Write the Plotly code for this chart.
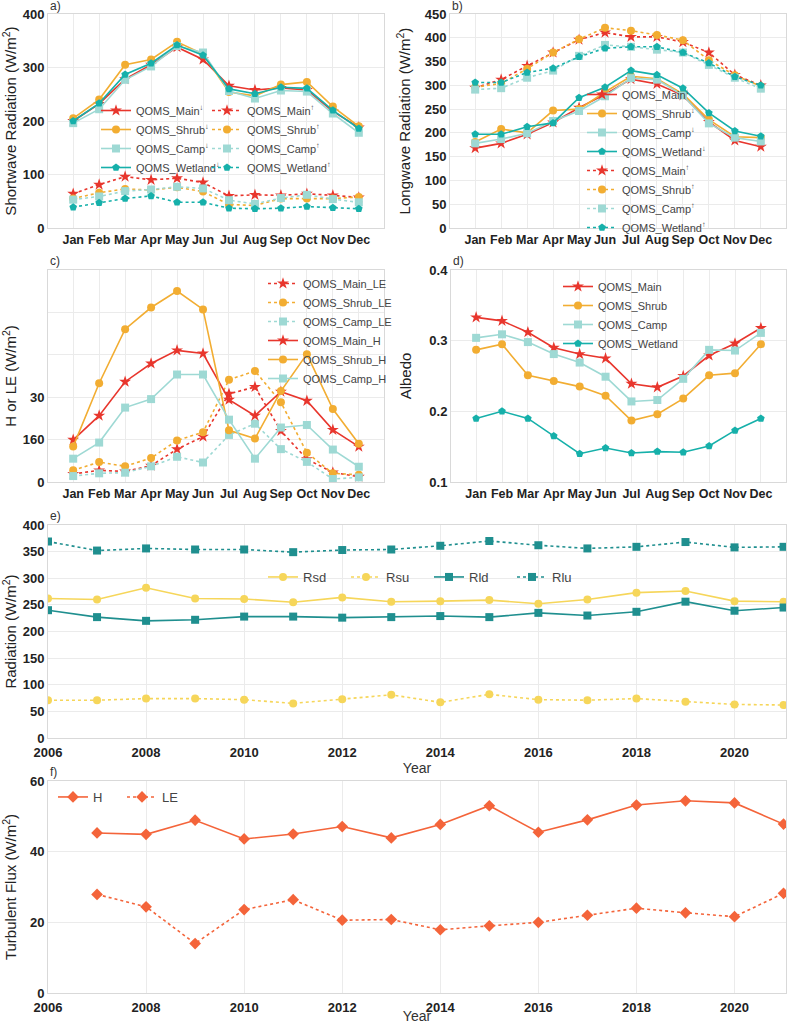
import plotly.graph_objects as go

W, H = 787, 1024

months = ["Jan", "Feb", "Mar", "Apr", "May", "Jun", "Jul", "Aug", "Sep", "Oct", "Nov", "Dec"]
years = list(range(2006, 2022))
flux_years = list(range(2007, 2022))

# a) shortwave radiation, down and up (W/m2)
sw_down_main = [200, 232, 278, 305, 338, 315, 266, 258, 262, 258, 218, 188]
sw_down_shrub = [205, 240, 305, 315, 348, 325, 254, 247, 268, 273, 227, 190]
sw_down_camp = [196, 222, 277, 302, 340, 328, 256, 242, 257, 255, 214, 178]
sw_down_wetland = [200, 233, 287, 308, 342, 323, 260, 251, 263, 261, 220, 186]
sw_up_main = [64, 81, 96, 90, 93, 85, 60, 62, 61, 64, 61, 57]
sw_up_shrub = [55, 66, 73, 71, 76, 68, 44, 42, 55, 55, 55, 58]
sw_up_camp = [53, 59, 69, 72, 77, 74, 52, 45, 56, 62, 54, 48]
sw_up_wetland = [39, 47, 55, 60, 48, 48, 37, 36, 37, 40, 38, 36]

# b) longwave radiation, down and up (W/m2)
lw_down_main = [168, 178, 197, 222, 253, 281, 313, 303, 279, 223, 184, 171]
lw_down_shrub = [181, 208, 200, 247, 250, 286, 319, 314, 282, 228, 192, 190]
lw_down_camp = [178, 187, 199, 225, 246, 277, 315, 312, 279, 220, 190, 182]
lw_down_wetland = [197, 197, 213, 221, 274, 296, 331, 322, 294, 242, 204, 193]
lw_up_main = [295, 312, 341, 369, 396, 411, 402, 402, 391, 369, 322, 300]
lw_up_shrub = [296, 304, 335, 369, 397, 421, 415, 406, 395, 353, 321, 298]
lw_up_camp = [291, 294, 316, 331, 362, 385, 381, 375, 369, 343, 316, 293]
lw_up_wetland = [306, 306, 327, 336, 360, 378, 381, 381, 369, 347, 318, 300]

# c) H and LE, in the panel's own axis units
le_main = [3.8, 5.5, 5.0, 7.7, 15.5, 21.4, 41.6, 44.8, 24.1, 10.8, 4.5, 2.5]
le_shrub = [5.5, 9.4, 7.4, 11.3, 19.6, 23.5, 48.2, 52.4, 37.6, 13.8, 4.1, 3.4]
le_camp = [2.8, 4.1, 4.4, 7.4, 11.9, 9.2, 22.2, 27.5, 15.5, 9.5, 1.4, 2.2]
h_main = [19.9, 31.3, 47.3, 55.9, 62.1, 60.6, 38.8, 31.3, 42.6, 38.3, 24.6, 16.7]
h_shrub = [16.7, 46.6, 72.1, 82.3, 90.1, 81.4, 24.4, 20.5, 42.9, 60.3, 34.4, 18.0]
h_camp = [11.0, 18.6, 35.1, 39.1, 50.7, 50.7, 29.4, 11.0, 25.7, 26.9, 15.3, 7.2]
c_tickvals = [0, 20, 40, 60, 80]
c_ticktext = ["0", "160", "30", "", ""]

# d) albedo
alb_main = [0.333, 0.328, 0.312, 0.290, 0.281, 0.275, 0.239, 0.234, 0.250, 0.279, 0.296, 0.318]
alb_shrub = [0.287, 0.295, 0.251, 0.243, 0.235, 0.222, 0.187, 0.196, 0.218, 0.251, 0.254, 0.295]
alb_camp = [0.304, 0.309, 0.298, 0.281, 0.269, 0.249, 0.214, 0.216, 0.246, 0.287, 0.286, 0.311]
alb_wetland = [0.190, 0.200, 0.190, 0.165, 0.140, 0.148, 0.141, 0.143, 0.142, 0.151, 0.173, 0.190]

# e) annual radiation components
rsd = [262, 260, 282, 262, 261, 255, 264, 256, 257, 259, 252, 260, 273, 276, 257, 256]
rsu = [71, 71, 74, 74, 72, 65, 73, 81, 67, 82, 72, 71, 74, 68, 63, 62]
rld = [240, 227, 220, 222, 228, 228, 226, 227, 229, 227, 235, 230, 237, 256, 239, 245]
rlu = [369, 352, 356, 354, 354, 349, 353, 354, 361, 370, 362, 356, 359, 368, 358, 359]

# f) annual turbulent fluxes
flux_h = [45.3, 44.9, 48.9, 43.6, 45.0, 47.1, 43.9, 47.7, 53.0, 45.5, 49.0, 53.2, 54.4, 53.8, 47.8]
flux_le = [27.9, 24.4, 14.0, 23.6, 26.4, 20.6, 20.8, 17.9, 19.0, 20.0, 22.0, 24.0, 22.7, 21.6, 28.2]

RED = "#e8362d"
ORANGE = "#f2ad32"
CAMP = "#9ed9d4"
WET = "#16b0aa"
YEL = "#f6d65a"
TEAL = "#1f8f8f"
FLUX = "#f4643a"

FONT = "Liberation Sans, Arial, sans-serif"
TXT = "#222222"


# pixel -> paper fraction
def px(x):
    return x / W


def py(y):
    return 1 - y / H


def xd(a, b):
    return [px(a), px(b)]


def yd(top, bottom):
    return [py(bottom), py(top)]


fig = go.Figure()


def line(x, y, name, color, symbol, dash, n, legend, size=8, width=1.6):
    fig.add_trace(go.Scatter(
        x=x, y=y, name=name, mode="lines+markers",
        line=dict(color=color, width=width, dash=dash),
        marker=dict(color=color, symbol=symbol, size=size),
        xaxis="x" if n == 1 else "x%d" % n,
        yaxis="y" if n == 1 else "y%d" % n,
        legend=legend,
    ))


D = "\u2193"
U = "\u2191"

# a)
line(months, sw_down_main, "QOMS_Main<sup>%s</sup>" % D, RED, "star", "solid", 1, "legend", 9)
line(months, sw_down_shrub, "QOMS_Shrub<sup>%s</sup>" % D, ORANGE, "circle", "solid", 1, "legend")
line(months, sw_down_camp, "QOMS_Camp<sup>%s</sup>" % D, CAMP, "square", "solid", 1, "legend")
line(months, sw_down_wetland, "QOMS_Wetland<sup>%s</sup>" % D, WET, "pentagon", "solid", 1, "legend")
line(months, sw_up_main, "QOMS_Main<sup>%s</sup>" % U, RED, "star", "dot", 1, "legend2", 9)
line(months, sw_up_shrub, "QOMS_Shrub<sup>%s</sup>" % U, ORANGE, "circle", "dot", 1, "legend2")
line(months, sw_up_camp, "QOMS_Camp<sup>%s</sup>" % U, CAMP, "square", "dot", 1, "legend2")
line(months, sw_up_wetland, "QOMS_Wetland<sup>%s</sup>" % U, WET, "pentagon", "dot", 1, "legend2")

# b)
line(months, lw_down_main, "QOMS_Main<sup>%s</sup>" % D, RED, "star", "solid", 2, "legend3", 9)
line(months, lw_down_shrub, "QOMS_Shrub<sup>%s</sup>" % D, ORANGE, "circle", "solid", 2, "legend3")
line(months, lw_down_camp, "QOMS_Camp<sup>%s</sup>" % D, CAMP, "square", "solid", 2, "legend3")
line(months, lw_down_wetland, "QOMS_Wetland<sup>%s</sup>" % D, WET, "pentagon", "solid", 2, "legend3")
line(months, lw_up_main, "QOMS_Main<sup>%s</sup>" % U, RED, "star", "dot", 2, "legend3", 9)
line(months, lw_up_shrub, "QOMS_Shrub<sup>%s</sup>" % U, ORANGE, "circle", "dot", 2, "legend3")
line(months, lw_up_camp, "QOMS_Camp<sup>%s</sup>" % U, CAMP, "square", "dot", 2, "legend3")
line(months, lw_up_wetland, "QOMS_Wetland<sup>%s</sup>" % U, WET, "pentagon", "dot", 2, "legend3")

# c)
line(months, le_main, "QOMS_Main_LE", RED, "star", "dot", 3, "legend4", 9)
line(months, le_shrub, "QOMS_Shrub_LE", ORANGE, "circle", "dot", 3, "legend4")
line(months, le_camp, "QOMS_Camp_LE", CAMP, "square", "dot", 3, "legend4")
line(months, h_main, "QOMS_Main_H", RED, "star", "solid", 3, "legend4", 9)
line(months, h_shrub, "QOMS_Shrub_H", ORANGE, "circle", "solid", 3, "legend4")
line(months, h_camp, "QOMS_Camp_H", CAMP, "square", "solid", 3, "legend4")

# d)
line(months, alb_main, "QOMS_Main", RED, "star", "solid", 4, "legend5", 9)
line(months, alb_shrub, "QOMS_Shrub", ORANGE, "circle", "solid", 4, "legend5")
line(months, alb_camp, "QOMS_Camp", CAMP, "square", "solid", 4, "legend5")
line(months, alb_wetland, "QOMS_Wetland", WET, "pentagon", "solid", 4, "legend5")

# e)
line(years, rsd, "Rsd", YEL, "circle", "solid", 5, "legend6")
line(years, rsu, "Rsu", YEL, "circle", "dot", 5, "legend6")
line(years, rld, "Rld", TEAL, "square", "solid", 5, "legend6")
line(years, rlu, "Rlu", TEAL, "square", "dot", 5, "legend6")

# f)
line(flux_years, flux_h, "H", FLUX, "diamond", "solid", 6, "legend7", 9)
line(flux_years, flux_le, "LE", FLUX, "diamond", "dot", 6, "legend7", 9)

ax = dict(
    showgrid=True, gridcolor="#ebebeb", gridwidth=1,
    showline=True, linecolor="#d9d9d9", linewidth=1, mirror=True,
    zeroline=False, ticks="", automargin=False,
    tickfont=dict(family=FONT, size=13, color=TXT, weight="bold"),
    title_font=dict(family=FONT, size=15, color=TXT),
)
mx = dict(ax, type="category", range=[-0.97, 11.97], tickangle=0,
          tickfont=dict(family=FONT, size=12.5, color=TXT, weight="bold"))
yr = dict(ax, range=[2006, 2021.05], dtick=2, ticklabelstandoff=2,
          title=dict(text="Year", standoff=1,
                     font=dict(family=FONT, size=14, color="#333")))

layout = dict(
    width=W, height=H,
    margin=dict(l=0, r=0, t=0, b=0),
    paper_bgcolor="white", plot_bgcolor="white",
    font=dict(family=FONT, color=TXT),
    template="none",
    xaxis=dict(mx, domain=xd(48, 384), anchor="y"),
    yaxis=dict(ax, domain=yd(14, 228), anchor="x", range=[0, 400], dtick=100,
               title=dict(text="Shortwave Radiation (W/m<sup>2</sup>)")),
    xaxis2=dict(mx, domain=xd(450, 786), anchor="y2"),
    yaxis2=dict(ax, domain=yd(14, 228), anchor="x2", range=[0, 450], dtick=50,
                title=dict(text="Longwave Radiation (W/m<sup>2</sup>)")),
    xaxis3=dict(mx, domain=xd(48, 384), anchor="y3"),
    yaxis3=dict(ax, domain=yd(270, 482), anchor="x3", range=[0, 100],
                tickvals=c_tickvals, ticktext=c_ticktext,
                title=dict(text="H or LE (W/m<sup>2</sup>)")),
    xaxis4=dict(mx, domain=xd(451, 786), anchor="y4"),
    yaxis4=dict(ax, domain=yd(270, 482), anchor="x4", range=[0.1, 0.4], dtick=0.1,
                tickformat=".1f", title=dict(text="Albedo")),
    xaxis5=dict(yr, domain=xd(48, 786), anchor="y5"),
    yaxis5=dict(ax, domain=yd(525, 738), anchor="x5", range=[0, 400], dtick=50,
                title=dict(text="Radiation (W/m<sup>2</sup>)")),
    xaxis6=dict(yr, domain=xd(48, 786), anchor="y6"),
    yaxis6=dict(ax, domain=yd(781, 993), anchor="x6", range=[0, 60], dtick=20,
                title=dict(text="Turbulent Flux (W/m<sup>2</sup>)")),
)

leg = dict(bgcolor="rgba(0,0,0,0)", borderwidth=0,
           font=dict(family=FONT, size=11, color="#444"),
           xanchor="left", yanchor="top", tracegroupgap=0)
layout["legend"] = dict(leg, x=px(96), y=py(96))
layout["legend2"] = dict(leg, x=px(207), y=py(96))
layout["legend3"] = dict(leg, x=px(582), y=py(80))
layout["legend4"] = dict(leg, x=px(263), y=py(269))
layout["legend5"] = dict(leg, x=px(558), y=py(272))
layout["legend6"] = dict(leg, x=px(263), y=py(577), yanchor="middle",
                         orientation="h", entrywidth=38,
                         font=dict(family=FONT, size=13, color="#444"))
layout["legend7"] = dict(leg, x=px(53), y=py(797), yanchor="middle",
                         orientation="h", entrywidth=24,
                         font=dict(family=FONT, size=13, color="#444"))

fig.update_layout(**layout)

labels = [("a)", 48, 6), ("b)", 450, 6), ("c)", 48, 261), ("d)", 451, 261),
          ("e)", 48, 516), ("f)", 48, 772)]
for t, lx, ly in labels:
    fig.add_annotation(text=t, x=px(lx), y=py(ly), xref="paper", yref="paper",
                       xanchor="left", yanchor="middle", showarrow=False,
                       font=dict(family=FONT, size=12, color="#333"))

# drop the browser's default 8px body margin so the figure fills the window
fig.write_html("out.html", config={"displayModeBar": False},
               post_script="document.body.style.margin = '0px';")
